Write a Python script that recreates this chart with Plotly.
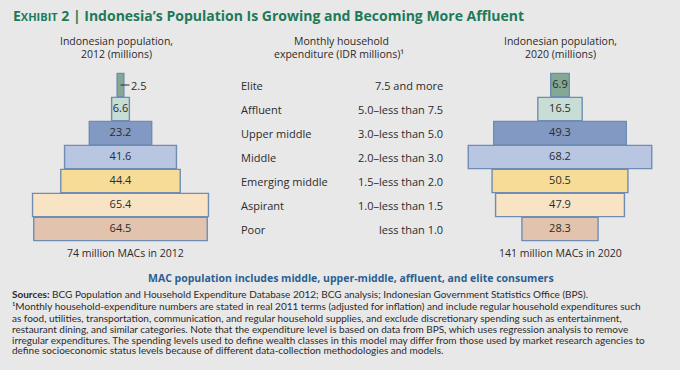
import plotly.graph_objects as go

W, H = 680, 370

categories = ["Elite", "Affluent", "Upper middle", "Middle", "Emerging middle", "Aspirant", "Poor"]
expenditure = ["7.5 and more", "5.0–less than 7.5", "3.0–less than 5.0", "2.0–less than 3.0",
               "1.5–less than 2.0", "1.0–less than 1.5", "less than 1.0"]
pop_2012 = [2.5, 6.6, 23.2, 41.6, 44.4, 65.4, 64.5]
pop_2020 = [6.9, 16.5, 49.3, 68.2, 50.5, 47.9, 28.3]

colors = ["#84a893", "#c8ddd3", "#8199c3", "#b8c6e2", "#f6dc96", "#f8e4c5", "#e2c3ad"]
border = "#6f8db4"
bg = "#e8e8e8"
ink = "#2b2b2b"

K = 2.69  # px per million
rows = list(range(len(categories)))

def fpx(x):
    return x / W

def fpy(y):
    return 1 - y / H

fig = go.Figure()

def add_pyr(vals, xa):
    fig.add_trace(go.Bar(
        orientation="h", y=rows, x=vals, base=[-v / 2 for v in vals],
        width=0.97, marker=dict(color=colors, line=dict(color=border, width=1.4)),
        xaxis=xa, yaxis="y", hoverinfo="skip", showlegend=False,
    ))
    big = [(i, v) for i, v in enumerate(vals) if v >= 4]
    fig.add_trace(go.Scatter(
        x=[0] * len(big), y=[i for i, _ in big], text=[f"{v:.1f}" for _, v in big],
        mode="text", textposition="middle center",
        textfont=dict(family="Open Sans", size=11, color=ink),
        xaxis=xa, yaxis="y", hoverinfo="skip", showlegend=False, cliponaxis=False,
    ))

add_pyr(pop_2012, "x")
add_pyr(pop_2020, "x2")

cL, cR = 120.5, 560
y0 = 85
rh = 24

fig.update_layout(
    width=W, height=H, margin=dict(l=0, r=0, t=0, b=0),
    paper_bgcolor=bg, plot_bgcolor=bg, barmode="overlay",
    xaxis=dict(domain=[0, 0.5], range=[-cL / K, (340 - cL) / K], visible=False, fixedrange=True),
    xaxis2=dict(domain=[0.5, 1], range=[-(cR - 340) / K, (680 - cR) / K], visible=False, fixedrange=True),
    yaxis=dict(domain=[0, 1], range=[(H - y0) / rh, -y0 / rh], visible=False, fixedrange=True),
)

ann = []
font_body = "Open Sans"

def txt(x, y, t, size=11, color=ink, anchor="center", family=font_body):
    ann.append(dict(x=fpx(x), y=fpy(y), xref="paper", yref="paper", xanchor=anchor, yanchor="middle",
                    text=t, font=dict(family=family, size=size, color=color), showarrow=False))

# title
txt(11, 15, "<b>E<span style='font-size:11px'>XHIBIT</span> 2 | Indonesia’s Population Is Growing and Becoming More Affluent</b>",
    size=14, color="#1d7a58", anchor="left")
# headers
hs = 10.5
txt(116, 41.5, "Indonesian population,", size=hs)
txt(116, 54.5, "2012 (millions)", size=hs)
txt(341, 41.5, "Monthly household", size=hs)
txt(339, 54.5, "expenditure (IDR millions)¹", size=hs)
txt(560, 41.5, "Indonesian population,", size=hs)
txt(560, 54.5, "2020 (millions)", size=hs)
# middle columns
for i in rows:
    ann.append(dict(x=fpx(239), y=i, xref="paper", yref="y", xanchor="left", yanchor="middle",
                    text=categories[i], font=dict(family=font_body, size=11, color=ink), showarrow=False))
    ann.append(dict(x=fpx(445), y=i, xref="paper", yref="y", xanchor="right", yanchor="middle",
                    text=expenditure[i], font=dict(family=font_body, size=11, color=ink), showarrow=False))
# leader label for small bar
for i, v in enumerate(pop_2012):
    if v < 4:
        ann.append(dict(x=0, y=i, xref="x", yref="y", text=f"{v:.1f}", showarrow=True,
                        ax=18, ay=0, arrowhead=0, arrowwidth=1, arrowcolor=ink,
                        font=dict(family=font_body, size=11, color=ink)))
# totals
txt(125, 253, "74 million MACs in 2012", size=10.5)
txt(560, 253, "141 million MACs in 2020", size=10.5)
txt(351, 278, "<b>MAC population includes middle, upper-middle, affluent, and elite consumers</b>",
    size=10.5, color="#2b5f93")
# footnotes
foot = ["<b>Sources:</b> BCG Population and Household Expenditure Database 2012; BCG analysis; Indonesian Government Statistics Office (BPS).",
        "¹Monthly household-expenditure numbers are stated in real 2011 terms (adjusted for inflation) and include regular household expenditures such",
        "as food, utilities, transportation, communication, and regular household supplies, and exclude discretionary spending such as entertainment,",
        "restaurant dining, and similar categories. Note that the expenditure level is based on data from BPS, which uses regression analysis to remove",
        "irregular expenditures. The spending levels used to define wealth classes in this model may differ from those used by market research agencies to",
        "define socioeconomic status levels because of different data-collection methodologies and models."]
txt(10, 294, foot[0], size=10, anchor="left", family="Lato")
txt(10, 306, foot[1], size=10, anchor="left", family="Lato")
for k, line in enumerate(foot[2:]):
    txt(10, 318 + 10.8 * k, line, size=10, anchor="left", family="Lato")

fig.update_layout(annotations=ann)
fig.write_html("out.html", config={"displayModeBar": False},
               post_script="document.body.style.margin='0';document.body.style.background='#e8e8e8';")
